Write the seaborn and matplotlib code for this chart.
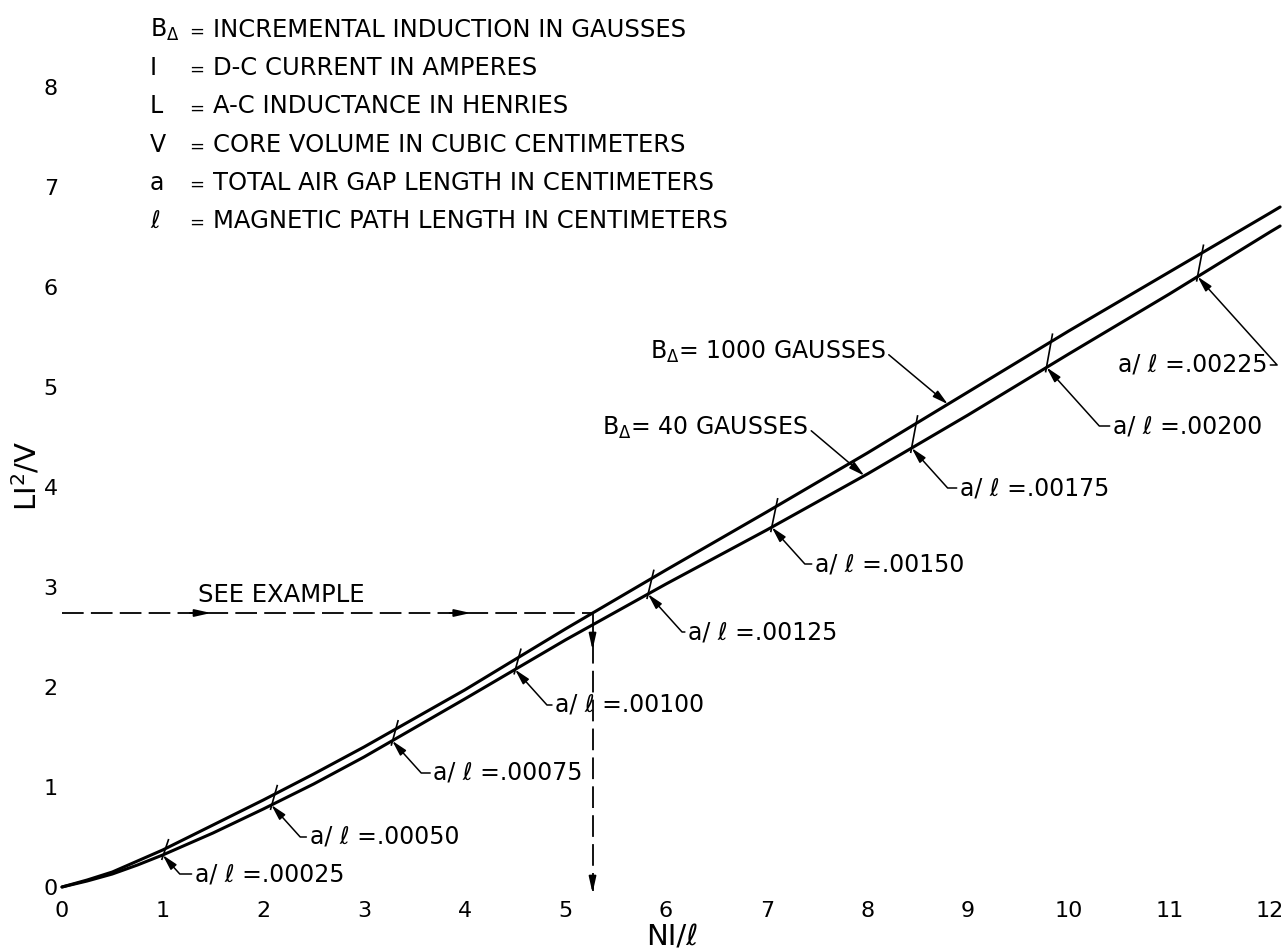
import numpy as np
import pandas as pd
import matplotlib
matplotlib.use("Agg")
import matplotlib.pyplot as plt
import seaborn as sns

# --- data -------------------------------------------------------------
# NI/l (ampere-turns per cm) and LI^2/V for the two incremental inductions
ni_per_l = [0, 0.25, 0.5, 0.75, 1, 1.5, 2, 2.5, 3, 4, 5, 6, 7, 8, 9, 10, 11, 12, 12.1]
li2v_40g = [0, 0.06, 0.13, 0.22, 0.32, 0.54, 0.78, 1.03, 1.30, 1.88, 2.47, 3.03,
            3.57, 4.13, 4.72, 5.33, 5.93, 6.55, 6.61]
li2v_1000g = [0, 0.07, 0.15, 0.26, 0.37, 0.62, 0.87, 1.13, 1.40, 1.97, 2.58, 3.17,
              3.75, 4.34, 4.95, 5.56, 6.15, 6.74, 6.80]

# air-gap ratio marks along the curves (NI/l where each a/l applies)
gap_ratio = [0.00025, 0.00050, 0.00075, 0.00100, 0.00125, 0.00150, 0.00175, 0.00200, 0.00225]
gap_ni_per_l = [1.00, 2.08, 3.28, 4.50, 5.82, 7.05, 8.44, 9.78, 11.28]

# worked example
example_ni_per_l = 5.27
example_li2v = 2.74

x_ticks = list(range(0, 13))
y_ticks = list(range(0, 9))

legend_symbols = ["B$_{\\Delta}$", "I", "L", "V", "a", "\u2113"]
legend_texts = [
    "INCREMENTAL INDUCTION IN GAUSSES",
    "D-C CURRENT IN AMPERES",
    "A-C INDUCTANCE IN HENRIES",
    "CORE VOLUME IN CUBIC CENTIMETERS",
    "TOTAL AIR GAP LENGTH IN CENTIMETERS",
    "MAGNETIC PATH LENGTH IN CENTIMETERS",
]

# --- style ------------------------------------------------------------
sns.set_theme(style="white")
plt.rcParams["font.family"] = ["DejaVu Sans"]
plt.rcParams["mathtext.fontset"] = "dejavusans"
plt.rcParams["text.color"] = "black"
plt.rcParams["xtick.color"] = "black"
plt.rcParams["ytick.color"] = "black"

W, H = 1287, 950
fig = plt.figure(figsize=(W / 100, H / 100), dpi=100)
fig.patch.set_facecolor("white")
ax = fig.add_axes([62 / W, 50 / H, 1225 / W, 900 / H])
ax.set_facecolor("white")

df = pd.DataFrame({
    "NI/l": ni_per_l * 2,
    "LI2/V": li2v_40g + li2v_1000g,
    "B": ["40"] * len(ni_per_l) + ["1000"] * len(ni_per_l),
})
sns.lineplot(data=df, x="NI/l", y="LI2/V", hue="B", palette={"40": "black", "1000": "black"},
             sort=False, legend=False, linewidth=2.2, ax=ax, clip_on=False)

ax.set_xlim(0, 1225 / 100.67)
ax.set_ylim(-0.13, 8.87)
ax.set_xticks(x_ticks)
ax.set_yticks(y_ticks)
ax.set_xticklabels([str(v) for v in x_ticks])
ax.set_yticklabels([str(v) for v in y_ticks])
ax.tick_params(axis="both", length=0, labelsize=16, colors="black")
ax.tick_params(axis="y", pad=3)
ax.tick_params(axis="x", pad=1)
ax.set_xlabel("")
ax.set_ylabel("")
sns.despine(ax=ax, left=True, bottom=True)
ax.grid(False)

fig.text(27 / W, 1 - 476 / H, "LI$^{2}$/V", rotation=90, ha="center", va="center", fontsize=21)
fig.text(672 / W, 1 - 937 / H, "NI/\u2113", ha="center", va="center", fontsize=21)

# --- a/l marks crossing both curves -----------------------------------
low_at = np.interp(gap_ni_per_l, ni_per_l, li2v_40g)
up_at = np.interp(gap_ni_per_l, ni_per_l, li2v_1000g)
for xm, yl, yu in zip(gap_ni_per_l, low_at, up_at):
    ax.plot([xm - 0.01, xm + 0.06], [yl - 0.05, yu + 0.11], color="black", lw=1.2,
            solid_capstyle="butt")

label_pos = [(1.32, 0.13), (2.46, 0.50), (3.69, 1.14), (4.90, 1.82), (6.22, 2.55),
             (7.48, 3.23), (8.92, 3.99), (10.44, 4.61), (11.97, 5.22)]
arrow_kw = dict(arrowstyle="-|>,head_length=0.55,head_width=0.14", color="black", lw=1.1,
                shrinkA=0, shrinkB=0)
for i, (ratio, xm, yl) in enumerate(zip(gap_ratio, gap_ni_per_l, low_at)):
    txt = "a/ \u2113 =" + f"{ratio:.5f}".lstrip("0")
    lx, ly = label_pos[i]
    right = i == len(gap_ratio) - 1
    ax.annotate(txt, xy=(xm, yl), xytext=(lx, ly), ha="right" if right else "left",
                va="center", fontsize=17, annotation_clip=False,
                arrowprops=dict(arrow_kw, relpos=(1, 0.5) if right else (0, 0.5),
                                connectionstyle="angle,angleA=0,angleB=-48,rad=0"))

# curve identification
x_1000 = 8.80
ax.annotate("B$_{\\Delta}$= 1000 GAUSSES", xy=(x_1000, np.interp(x_1000, ni_per_l, li2v_1000g)),
            xytext=(8.18, 5.35), ha="right", va="center", fontsize=17, annotation_clip=False,
            arrowprops=dict(arrow_kw, relpos=(1, 0.5), connectionstyle="arc3"))
x_40 = 7.97
ax.annotate("B$_{\\Delta}$= 40 GAUSSES", xy=(x_40, np.interp(x_40, ni_per_l, li2v_40g)),
            xytext=(7.41, 4.59), ha="right", va="center", fontsize=17, annotation_clip=False,
            arrowprops=dict(arrow_kw, relpos=(1, 0.5), connectionstyle="arc3"))

# --- worked example ---------------------------------------------------
dash_kw = dict(color="black", lw=1.3, dashes=(12, 4), clip_on=False)
ax.plot([0, example_ni_per_l], [example_li2v, example_li2v], **dash_kw)
ax.plot([example_ni_per_l, example_ni_per_l], [example_li2v, -0.04], **dash_kw)
head_kw = dict(arrowstyle="-|>,head_length=0.8,head_width=0.18", color="black", lw=1.3,
               shrinkA=0, shrinkB=0)
for xa in (1.42, 4.0):
    ax.annotate("", xy=(xa + 0.06, example_li2v), xytext=(xa - 0.15, example_li2v),
                arrowprops=head_kw, annotation_clip=False)
for ya in (2.37, -0.06):
    ax.annotate("", xy=(example_ni_per_l, ya), xytext=(example_ni_per_l, ya + 0.15),
                arrowprops=head_kw, annotation_clip=False)
ax.text(1.35, 2.92, "SEE EXAMPLE", ha="left", va="center", fontsize=17.5)

# --- symbol key -------------------------------------------------------
for k, (sym, desc) in enumerate(zip(legend_symbols, legend_texts)):
    yb = 1 - (29 + 38.2 * k + 8) / H
    fig.text(150 / W, yb, sym, ha="left", va="baseline", fontsize=17)
    fig.text(197 / W, yb, "=", ha="center", va="baseline", fontsize=13)
    fig.text(213 / W, yb, desc, ha="left", va="baseline", fontsize=17.5)

fig.savefig("out.png", dpi=100, facecolor="white")
